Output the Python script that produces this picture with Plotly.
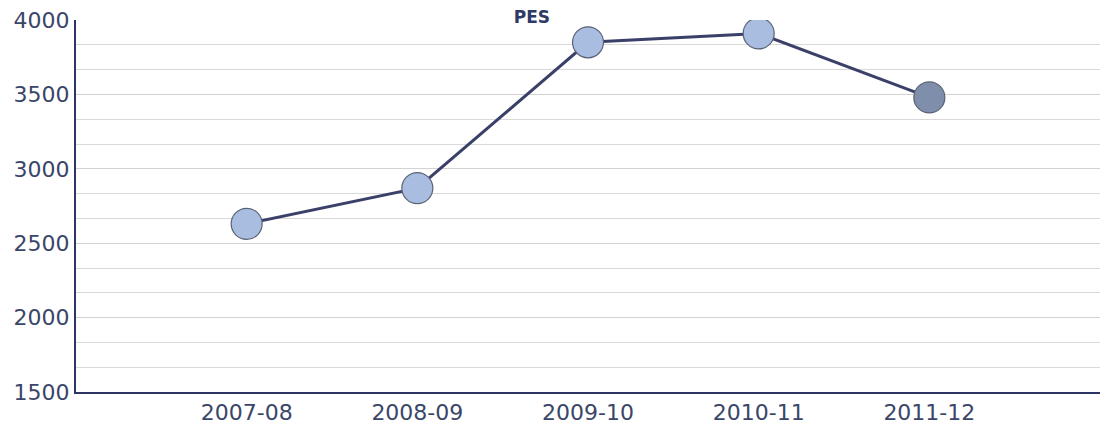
import plotly.graph_objects as go

categories = ["2007-08", "2008-09", "2009-10", "2010-11", "2011-12"]
values = [2630, 2870, 3850, 3910, 3480]
marker_colors = ["#a9bde0", "#a9bde0", "#a9bde0", "#a9bde0", "#7e8eab"]

fig = go.Figure()
fig.add_trace(go.Scatter(
    x=categories, y=values, mode="lines+markers",
    line=dict(color="#3b4068", width=3),
    marker=dict(size=31, color=marker_colors,
                line=dict(color="#5a6275", width=1.2)),
    showlegend=False,
))

# page body has an 8px default margin, so the figure is sized to fit the window
fig.update_layout(
    width=1103, height=423,
    margin=dict(l=68, r=11, t=12, b=39),
    paper_bgcolor="white", plot_bgcolor="white",
    title=dict(text="<b>PES</b>", x=0.475, xanchor="center",
               y=0.992, yref="container", yanchor="top", pad=dict(t=0),
               font=dict(family="DejaVu Sans", size=17, color="#2e3966")),
    font=dict(family="DejaVu Sans", size=22, color="#3a4668"),
)
fig.update_xaxes(
    type="category", range=[-1, 5], showgrid=False, automargin=False,
    showline=True, linecolor="#2e3466", linewidth=2,
    ticks="", tickfont=dict(size=22, color="#3a4668"),
)
fig.update_yaxes(
    range=[1500, 4000], dtick=500, tick0=1500, automargin=False,
    ticklabeloverflow="allow",
    showgrid=True, gridcolor="#d2d2d2", gridwidth=1.2,
    minor=dict(dtick=500/3, tick0=1500, showgrid=True, gridcolor="#d9d9d9", gridwidth=1),
    showline=True, linecolor="#2e3466", linewidth=2,
    ticks="", zeroline=False, tickfont=dict(size=22, color="#3a4668"),
)

fig.write_html("out.html")
